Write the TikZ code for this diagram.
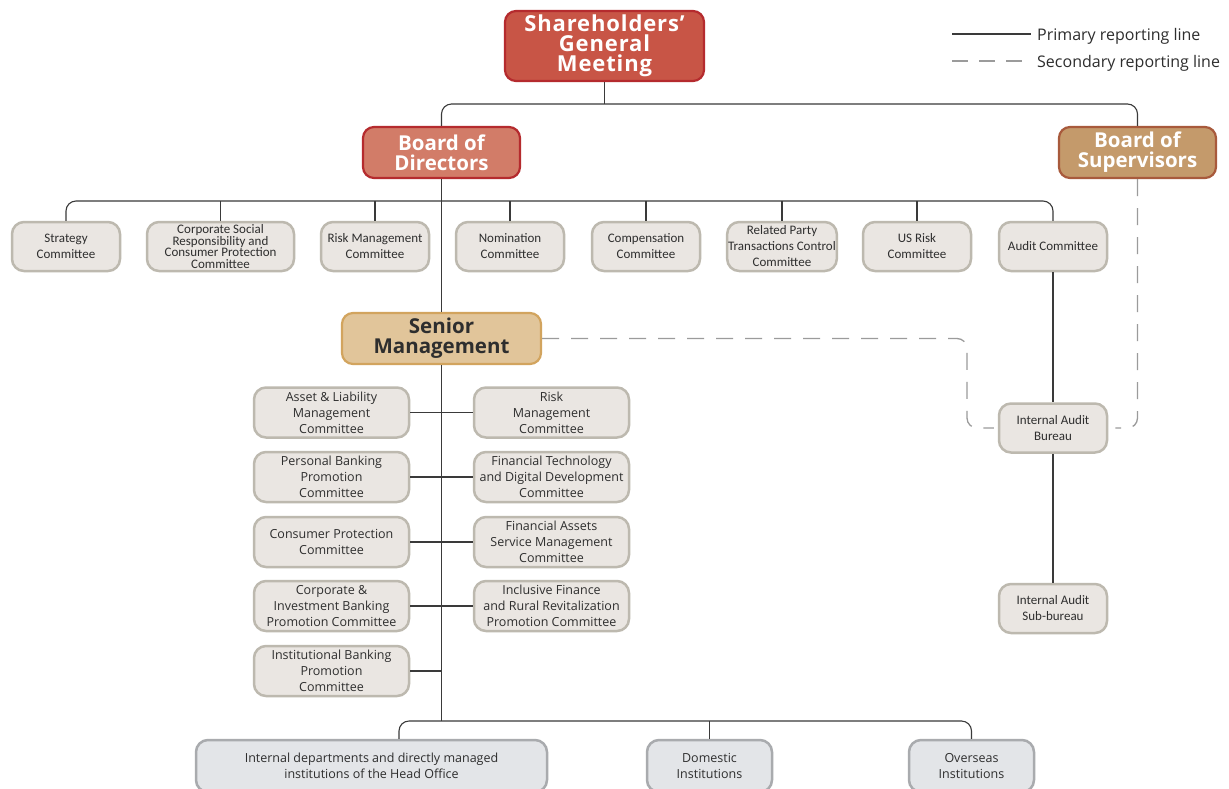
\documentclass[tikz,border=0pt]{standalone}
\usepackage{fontspec}
\setmainfont{Open Sans}
\newfontfamily\narrowfont{Carlito}
\newfontfamily\widebold[LetterSpace=4]{Open Sans Bold}
\usetikzlibrary{positioning,calc}
\definecolor{sgmfill}{HTML}{C85546}
\definecolor{sgmdraw}{HTML}{B52B2E}
\definecolor{bodfill}{HTML}{D27C68}
\definecolor{bosfill}{HTML}{C49A6B}
\definecolor{bosdraw}{HTML}{A85A3C}
\definecolor{senfill}{HTML}{E1C59A}
\definecolor{sendraw}{HTML}{D2A45E}
\definecolor{comfill}{HTML}{EAE6E2}
\definecolor{comdraw}{HTML}{BDB9AF}
\definecolor{instfill}{HTML}{E3E5E8}
\definecolor{instdraw}{HTML}{A9ABAE}
\definecolor{linecol}{HTML}{3A3A3A}
\definecolor{dashcol}{HTML}{9B9B9B}
\definecolor{dark}{HTML}{2E2E2E}
\tikzset{
    % Governing bodies
    headbox/.style 2 args={
        rectangle,
        rounded corners=11pt,
        align=center,
        inner sep=2pt,
        font=\fontsize{20.5}{20}\selectfont\bfseries,
        text=white,
        fill=#1,
        draw=#2,
        line width=2.2pt
    },
    % Board committees
    committee/.style={
        rectangle,
        rounded corners=12pt,
        minimum width=108pt,
        minimum height=49pt,
        inner sep=1pt,
        align=center,
        font=\narrowfont\fontsize{13}{16}\selectfont,
        text=dark,
        fill=comfill,
        draw=comdraw,
        line width=2.5pt
    },
    % Management committees
    mgmtcom/.style={
        committee,
        minimum width=155pt,
        minimum height=50pt,
        font=\fontsize{12.5}{16}\selectfont
    },
    % Institutions
    institution/.style={
        mgmtcom,
        fill=instfill,
        draw=instdraw
    },
    % Reporting lines
    primary/.style={draw=linecol, line width=1.1pt},
    secondary/.style={draw=dashcol, line width=1.3pt, dash pattern=on 17pt off 12pt},
    legend text/.style={font=\fontsize{16}{18}\selectfont, text=dark, anchor=west, inner sep=0pt}
}
\begin{document}
\begin{tikzpicture}[x=1pt,y=-1pt]
    \clip (0,0) rectangle (1229,788);
    \fill[white] (0,0) rectangle (1229,788);

    % Legend
    \coordinate (la) at (952,34);
    \coordinate (lb) at (1031,34);
    \coordinate (lc) at (952,61);
    \coordinate (ld) at (1031,61);
    \draw[primary] (la) -- (lb);
    \draw[secondary, dash pattern=on 16pt off 11pt, line width=1.1pt] (lc) -- (ld);
    \node[legend text] (lprim) at (1037,36) {Primary reporting line};
    \node[legend text] (lsec) at (1037,63) {Secondary reporting line};

    % Governing bodies
    \node[headbox={sgmfill}{sgmdraw}, minimum width=199pt, minimum height=70pt, font=\widebold\fontsize{22}{20}\selectfont] (sgm) at (604.5,46) {Shareholders’\\General\\Meeting};
    \node[headbox={bodfill}{sgmdraw}, minimum width=157pt, minimum height=51pt] (bod) at (441.5,152.5) {Board of\\Directors};
    \node[headbox={bosfill}{bosdraw}, minimum width=157pt, minimum height=51pt] (bos) at (1137.5,152.5) {Board of\\Supervisors};
    \node[headbox={senfill}{sendraw}, minimum width=199pt, minimum height=51pt, text=dark] (sm) at (441.5,338.5) {Senior\\Management};

    % Board committees
    \node[committee] (strat) at (66,246.5) {Strategy\\Committee};
    \node[committee, minimum width=147pt, font=\narrowfont\fontsize{13}{11.5}\selectfont] (csr) at (220.5,246.5) {Corporate Social\\Responsibility and\\Consumer Protection\\Committee};
    \node[committee] (rmc) at (375,246.5) {Risk Management\\Committee};
    \node[committee] (nom) at (510,246.5) {Nomination\\Committee};
    \node[committee] (comp) at (646,246.5) {Compensation\\Committee};
    \node[committee] (rpt) at (782,246.5) {Related Party\\Transactions Control\\Committee};
    \node[committee] (usr) at (917,246.5) {US Risk\\Committee};
    \node[committee] (audit) at (1053,246.5) {Audit Committee};

    % Internal audit
    \node[committee] (iab) at (1053,428) {Internal Audit\\Bureau};
    \node[committee] (iasb) at (1053,608.5) {Internal Audit\\Sub-bureau};

    % Management committees
    \node[mgmtcom] (alm) at (331.5,412.5) {Asset \& Liability\\Management\\Committee};
    \node[mgmtcom] (mrisk) at (551.5,412.5) {Risk\\Management\\Committee};
    \node[mgmtcom] (pbp) at (331.5,477) {Personal Banking\\Promotion\\Committee};
    \node[mgmtcom] (ftd) at (551.5,477) {Financial Technology\\and Digital Development\\Committee};
    \node[mgmtcom] (cpc) at (331.5,542) {Consumer Protection\\Committee};
    \node[mgmtcom] (fas) at (551.5,542) {Financial Assets\\Service Management\\Committee};
    \node[mgmtcom] (cib) at (331.5,606) {Corporate \&\\Investment Banking\\Promotion Committee};
    \node[mgmtcom] (ifr) at (551.5,606) {Inclusive Finance\\and Rural Revitalization\\Promotion Committee};
    \node[mgmtcom] (ibp) at (331.5,671) {Institutional Banking\\Promotion\\Committee};

    % Institutions
    \node[institution, minimum width=351pt, minimum height=52pt] (hq) at (371.5,766) {Internal departments and directly managed\\institutions of the Head Office};
    \node[institution, minimum width=125pt, minimum height=52pt] (dom) at (709.5,766) {Domestic\\Institutions};
    \node[institution, minimum width=125pt, minimum height=52pt] (ovs) at (971.5,766) {Overseas\\Institutions};

    % Bus points
    \coordinate (tbus) at (604.5,104);
    \coordinate (cbus) at (441.5,201);
    \coordinate (bbus) at (441.5,721);
    \coordinate (dbend) at (967,428);

    % Primary reporting lines
    \draw[primary] (sgm.south) -- (tbus);
    \draw[primary, rounded corners=10pt] (bod.north) |- (tbus) -| (bos.north);
    \draw[primary, rounded corners=10pt] (strat.north) |- (cbus) -| (audit.north);
    \foreach \c in {csr,rmc,nom,comp,rpt,usr} {
        \draw[primary] (\c.north) -- (\c.north |- cbus);
    }
    \draw[primary] (bod.south) -- (sm.north);
    \draw[primary] (sm.south) -- (bbus);
    \draw[primary] (alm.east) -- (mrisk.west);
    \draw[primary] (pbp.east) -- (ftd.west);
    \draw[primary] (cpc.east) -- (fas.west);
    \draw[primary] (cib.east) -- (ifr.west);
    \draw[primary] (ibp.east) -- (ibp.east -| sm.south);
    \draw[primary, rounded corners=10pt] ([xshift=27.5pt]hq.north) |- (bbus) -| (ovs.north);
    \draw[primary] (dom.north) -- (dom.north |- bbus);
    \draw[primary] (audit.south) -- (iab.north);
    \draw[primary] (iab.south) -- (iasb.north);

    % Secondary reporting lines
    \draw[secondary, rounded corners=10pt, shorten >=4pt] (sm.east) -| (dbend) -- (iab.west);
    \draw[secondary, rounded corners=10pt, shorten >=7pt] (bos.south) |- (iab.east);
\end{tikzpicture}
\end{document}
